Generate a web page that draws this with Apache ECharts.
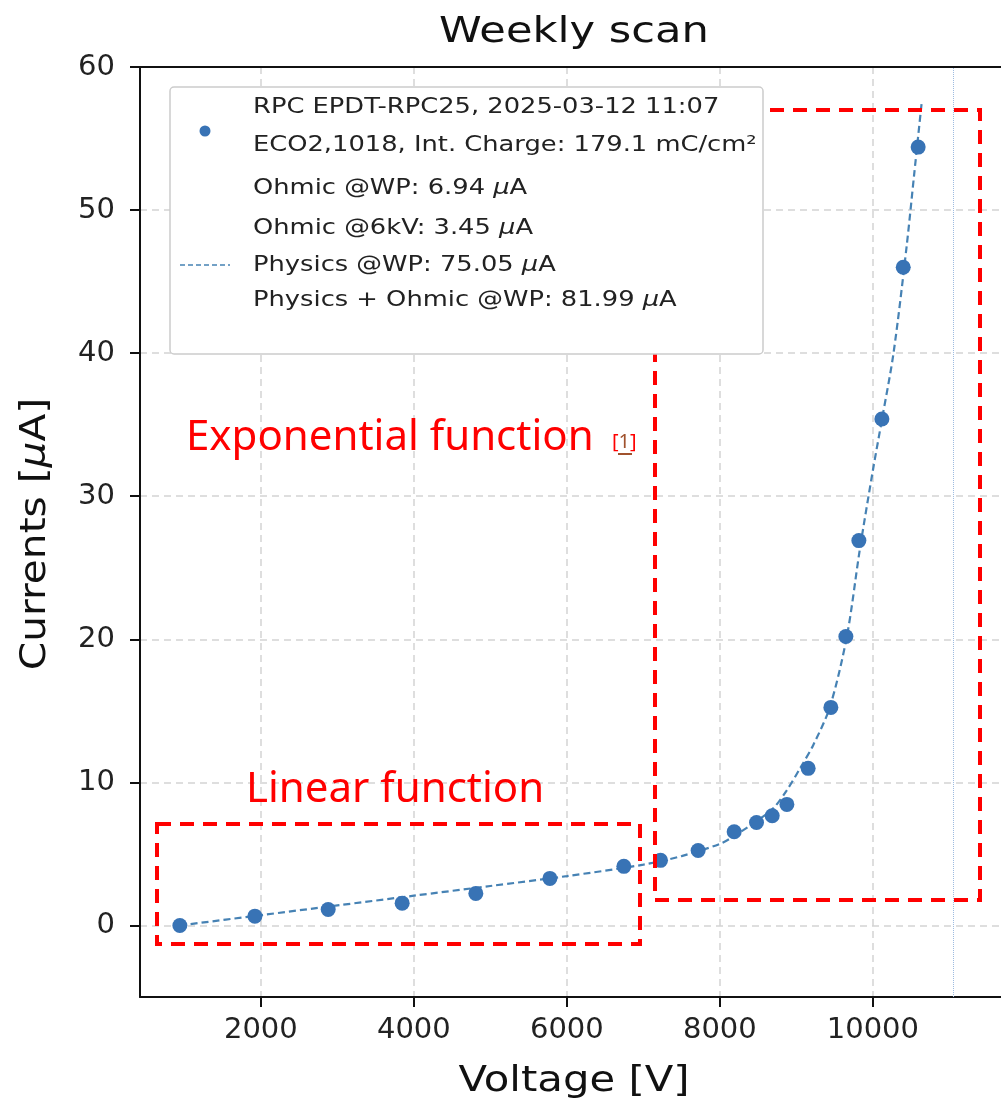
<!DOCTYPE html>
<html>
<head>
<meta charset="utf-8">
<script src="https://cdn.jsdelivr.net/npm/echarts@6/dist/echarts.min.js"></script>
<style>
  html, body { margin: 0; padding: 0; background: #fff; }
  #chart { width: 1001px; height: 1107px; }
</style>
</head>
<body>
<div id="chart"></div>
<script>
// measured points (voltage V, current uA)
var voltages = [941, 1922, 2880, 3847, 4810, 5778, 6745, 7224, 7716, 8187, 8479, 8684, 8876, 9154, 9451, 9647, 9817, 10118, 10397, 10592]
var currents = [0.0, 0.65, 1.12, 1.56, 2.24, 3.29, 4.13, 4.55, 5.24, 6.55, 7.2, 7.67, 8.46, 10.98, 15.24, 20.2, 26.9, 35.4, 46.0, 54.4]

// fitted curve
var fitVoltages = [941, 2000, 3000, 4000, 5000, 6000, 7000, 7500, 8000, 8200, 8480, 8700, 8870, 9050, 9220, 9440, 9660, 9830, 10000, 10120, 10270, 10440, 10540, 10640]
var fitCurrents = [0.0, 0.72, 1.4, 2.08, 2.76, 3.45, 4.25, 4.85, 5.7, 6.3, 7.3, 8.2, 9.4, 11.0, 12.6, 15.3, 20.2, 26.3, 31.8, 35.4, 40.0, 47.4, 52.5, 57.6]

var wpLine = [11050]
var xTicks = [2000, 4000, 6000, 8000, 10000]
var yTicks = [0, 10, 20, 30, 40, 50, 60]

var legendLines = [
  'RPC EPDT-RPC25, 2025-03-12 11:07',
  'ECO2,1018, Int. Charge: 179.1 mC/cm\u00b2',
  'Ohmic @WP: 6.94 {i|\u03bc}A',
  'Ohmic @6kV: 3.45 {i|\u03bc}A',
  'Physics @WP: 75.05 {i|\u03bc}A',
  'Physics + Ohmic @WP: 81.99 {i|\u03bc}A'
]
var legendY = [107, 145, 188, 228, 265, 300]

var pointColor = '#3873b5'
var fitColor = '#4682b4'
var font = 'DejaVu Sans'

var scatterData = voltages.map(function(v, i) { return [v, currents[i]] })
var fitData = fitVoltages.map(function(v, i) { return [v, fitCurrents[i]] })

var myChart = echarts.init(document.getElementById('chart'), null, { renderer: 'canvas' })

// legend box drawn on top of the red annotation boxes
var legendItems = [
  { type: 'rect', z: 100, shape: { x: 170, y: 87, width: 593, height: 267, r: 4 }, style: { fill: '#ffffff', stroke: '#cccccc', lineWidth: 1.5 } },
  { type: 'circle', z: 101, shape: { cx: 205, cy: 131, r: 5.5 }, style: { fill: pointColor } },
  { type: 'line', z: 101, shape: { x1: 180, y1: 265, x2: 230, y2: 265 }, style: { stroke: fitColor, lineWidth: 1.6, lineDash: [5, 3] } }
]
legendLines.forEach(function(t, i) {
  legendItems.push({
    type: 'text',
    z: 101,
    x: 253,
    y: legendY[i],
    scaleX: 1.17,
    style: {
      text: t,
      font: '22px "' + font + '"',
      fill: '#222',
      verticalAlign: 'middle',
      rich: { i: { fontStyle: 'italic', fontFamily: font, fontSize: 22, fill: '#222' } }
    }
  })
})

var redDash = { stroke: '#ff0000', lineWidth: 4, lineDash: [14, 9], fill: null }

var options = {
  animation: false,
  backgroundColor: '#fff',
  grid: { left: 140, top: 67, right: 0, bottom: 110, containLabel: false },
  xAxis: [
    {
      type: 'value',
      min: 420,
      max: 11675,
      axisLine: { show: true, onZero: false, lineStyle: { color: '#111', width: 2 } },
      axisTick: { show: true, length: 10, customValues: xTicks, lineStyle: { color: '#111', width: 2 } },
      axisLabel: {
        customValues: xTicks, margin: 19, fontFamily: font, fontSize: 29, color: '#222',
        formatter: function(v) { return String(v) }
      },
      splitLine: { show: true, lineStyle: { color: '#d3d3d3', width: 1.5, type: [7, 5] } }
    },
    {
      type: 'value',
      position: 'top',
      min: 420,
      max: 11675,
      axisLine: { show: true, onZero: false, lineStyle: { color: '#111', width: 2 } },
      axisTick: { show: false },
      axisLabel: { show: false },
      splitLine: { show: false }
    }
  ],
  yAxis: {
    type: 'value',
    min: -5,
    max: 60,
    axisLine: { show: true, onZero: false, lineStyle: { color: '#111', width: 2 } },
    axisTick: { show: true, length: 10, customValues: yTicks, lineStyle: { color: '#111', width: 2 } },
    axisLabel: {
      customValues: yTicks, margin: 25, fontFamily: font, fontSize: 29, color: '#222',
      formatter: function(v) { return String(v) }
    },
    splitLine: { show: true, lineStyle: { color: '#d3d3d3', width: 1.5, type: [7, 5] } }
  },
  series: [
    {
      name: 'fit',
      type: 'line',
      data: fitData,
      smooth: 0.3,
      symbol: 'none',
      lineStyle: { color: fitColor, width: 2.2, type: [7, 4] },
      z: 3,
      markLine: {
        silent: true,
        symbol: 'none',
        label: { show: false },
        lineStyle: { color: '#9dbbe0', width: 1, type: [1, 1] },
        data: wpLine.map(function(v) { return { xAxis: v } })
      }
    },
    {
      name: 'points',
      type: 'scatter',
      data: scatterData,
      symbolSize: 15,
      itemStyle: { color: pointColor, opacity: 1 },
      z: 4
    }
  ],
  graphic: [
    // title and axis names
    {
      type: 'text', z: 60, x: 574, y: 33, scaleX: 1.2,
      style: { text: 'Weekly scan', font: '36px "' + font + '"', fill: '#111', align: 'center', verticalAlign: 'middle' }
    },
    {
      type: 'text', z: 60, x: 574, y: 1082, scaleX: 1.16,
      style: { text: 'Voltage [V]', font: '36px "' + font + '"', fill: '#111', align: 'center', verticalAlign: 'middle' }
    },
    {
      type: 'text', z: 60, x: 36, y: 534, rotation: Math.PI / 2, scaleX: 1.13,
      style: {
        text: 'Currents [{i|\u03bc}A]', font: '36px "' + font + '"', fill: '#111', align: 'center', verticalAlign: 'middle',
        rich: { i: { fontStyle: 'italic', fontFamily: font, fontSize: 36, fill: '#111' } }
      }
    },
    // annotation boxes
    { type: 'rect', z: 50, shape: { x: 157, y: 824, width: 483, height: 120 }, style: redDash },
    { type: 'rect', z: 50, shape: { x: 655, y: 110, width: 325, height: 790 }, style: redDash },
    {
      type: 'text', z: 60, x: 186, y: 438,
      style: { text: 'Exponential function', font: '42px "Noto Sans"', fill: '#ff0000', verticalAlign: 'middle' }
    },
    {
      type: 'text', z: 60, x: 612, y: 442,
      style: {
        text: '[{u|1}]',
        font: '20px "Noto Sans"', fill: '#ff0000', verticalAlign: 'middle',
        rich: { u: { fontFamily: 'Noto Sans', fontSize: 20, fill: '#a0522d' } }
      }
    },
    { type: 'line', z: 60, shape: { x1: 618, y1: 454, x2: 632, y2: 454 }, style: { stroke: '#a0522d', lineWidth: 2 } },
    {
      type: 'text', z: 60, x: 246, y: 790,
      style: { text: 'Linear function', font: '42px "Noto Sans"', fill: '#ff0000', verticalAlign: 'middle' }
    }
  ].concat(legendItems)
}

myChart.setOption(options)
</script>
</body>
</html>
